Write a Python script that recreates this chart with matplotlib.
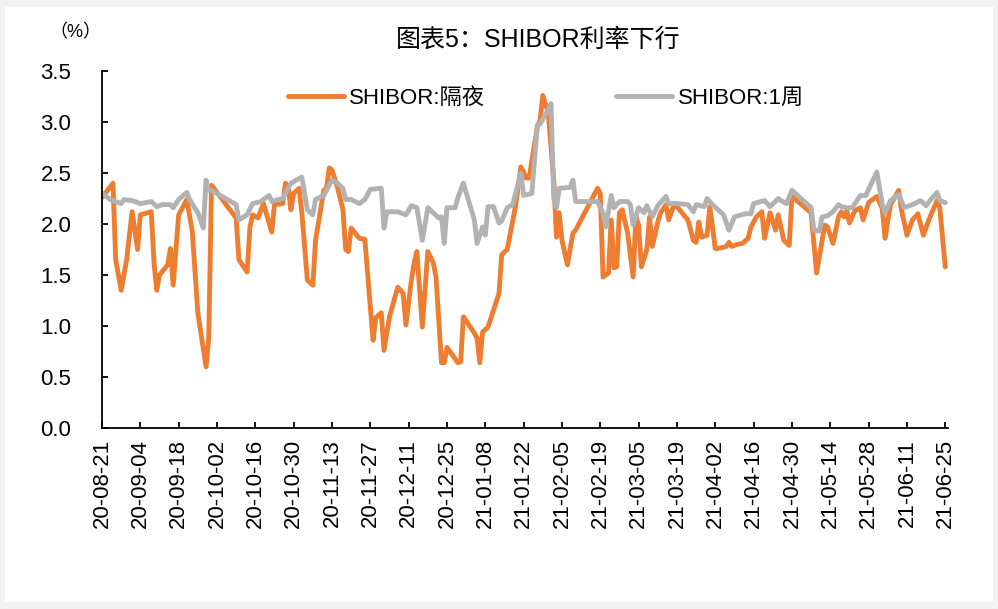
import numpy as np
import pandas as pd
import matplotlib
matplotlib.use('Agg')
import matplotlib.pyplot as plt
import matplotlib.dates as mdates
from matplotlib.patches import Rectangle

plt.rcParams['font.family'] = ['Liberation Sans', 'Noto Sans CJK SC', 'DejaVu Sans']

# SHIBOR overnight (隔夜), dates as MM-DD (Aug-Dec = 2020, Jan-Jun = 2021)
on_dates = [
    '08-21', '08-25', '08-26', '08-28', '08-30', '09-01', '09-03', '09-04', '09-08', '09-09',
    '09-10', '09-11', '09-14', '09-15', '09-16', '09-18', '09-21', '09-23', '09-25', '09-28',
    '09-29', '09-30', '10-09', '10-10', '10-13', '10-14', '10-15', '10-17', '10-19', '10-22',
    '10-23', '10-26', '10-27', '10-28', '10-29', '10-30', '11-01', '11-02', '11-04', '11-06',
    '11-07', '11-10', '11-11', '11-12', '11-13', '11-15', '11-17', '11-18', '11-19', '11-20',
    '11-23', '11-25', '11-28', '11-29', '12-01', '12-02', '12-04', '12-07', '12-09', '12-10',
    '12-12', '12-13', '12-14', '12-16', '12-18', '12-20', '12-21', '12-23', '12-24', '12-25',
    '12-29', '12-30', '12-31', '01-04', '01-05', '01-06', '01-07', '01-09', '01-13', '01-14',
    '01-16', '01-19', '01-21', '01-23', '01-24', '01-27', '01-28', '01-29', '01-31', '02-02',
    '02-03', '02-04', '02-05', '02-07', '02-09', '02-10', '02-18', '02-19', '02-20', '02-22',
    '02-23', '02-24', '02-25', '02-26', '02-27', '03-01', '03-03', '03-04', '03-05', '03-06',
    '03-08', '03-09', '03-10', '03-12', '03-13', '03-15', '03-16', '03-18', '03-19', '03-23',
    '03-25', '03-26', '03-27', '03-28', '03-30', '03-31', '04-02', '04-03', '04-06', '04-07',
    '04-08', '04-10', '04-12', '04-14', '04-15', '04-17', '04-19', '04-20', '04-22', '04-24',
    '04-25', '04-27', '04-29', '04-30', '05-07', '05-09', '05-10', '05-12', '05-13', '05-15',
    '05-17', '05-18', '05-19', '05-20', '05-21', '05-23', '05-25', '05-26', '05-28', '05-31',
    '06-02', '06-03', '06-05', '06-08', '06-09', '06-11', '06-13', '06-15', '06-17', '06-19',
    '06-22', '06-23', '06-25',
]
on_vals = [
    2.26, 2.40, 1.65, 1.35, 1.65, 2.12, 1.75, 2.09, 2.12, 1.62,
    1.35, 1.50, 1.60, 1.76, 1.40, 2.09, 2.24, 1.92, 1.13, 0.60,
    0.89, 2.38, 2.06, 1.65, 1.53, 1.96, 2.09, 2.06, 2.20, 1.92,
    2.19, 2.20, 2.40, 2.37, 2.14, 2.30, 2.35, 2.11, 1.45, 1.40,
    1.84, 2.33, 2.35, 2.55, 2.53, 2.36, 2.14, 1.75, 1.73, 1.96,
    1.86, 1.85, 0.86, 1.08, 1.13, 0.76, 1.09, 1.38, 1.32, 1.01,
    1.45, 1.62, 1.73, 0.99, 1.73, 1.62, 1.48, 0.64, 0.64, 0.79,
    0.64, 0.65, 1.09, 0.93, 0.88, 0.64, 0.94, 0.99, 1.32, 1.70,
    1.75, 2.17, 2.56, 2.45, 2.45, 2.95, 3.02, 3.26, 3.09, 2.43,
    1.87, 2.11, 1.84, 1.60, 1.91, 1.94, 2.35, 2.30, 1.48, 1.52,
    2.04, 1.57, 1.58, 2.11, 2.14, 1.91, 1.48, 2.07, 1.99, 1.58,
    1.75, 2.07, 1.78, 2.02, 2.11, 2.19, 2.04, 2.20, 2.17, 2.04,
    1.84, 1.82, 2.02, 1.87, 1.89, 2.17, 1.76, 1.76, 1.78, 1.82,
    1.78, 1.80, 1.81, 1.86, 1.97, 2.07, 2.12, 1.86, 2.11, 1.94,
    2.09, 1.84, 1.79, 2.27, 2.11, 1.52, 1.68, 1.99, 1.97, 1.81,
    2.07, 2.12, 2.07, 2.13, 2.01, 2.13, 2.16, 2.04, 2.21, 2.27,
    2.15, 1.86, 2.19, 2.33, 2.14, 1.89, 2.04, 2.10, 1.89, 2.04,
    2.23, 2.16, 1.58,
]

# SHIBOR 1 week (1周)
w1_dates = [
    '08-21', '08-24', '08-28', '08-29', '09-01', '09-04', '09-08', '09-10', '09-12', '09-15',
    '09-16', '09-18', '09-21', '09-22', '09-25', '09-27', '09-28', '09-29', '09-30', '10-09',
    '10-10', '10-13', '10-15', '10-18', '10-21', '10-22', '10-26', '10-29', '10-31', '11-02',
    '11-04', '11-06', '11-07', '11-10', '11-11', '11-13', '11-15', '11-17', '11-18', '11-20',
    '11-23', '11-25', '11-27', '12-01', '12-02', '12-03', '12-07', '12-10', '12-12', '12-14',
    '12-16', '12-18', '12-20', '12-22', '12-23', '12-24', '12-25', '12-28', '12-29', '12-30',
    '12-31', '01-04', '01-05', '01-07', '01-08', '01-09', '01-11', '01-13', '01-14', '01-16',
    '01-18', '01-21', '01-22', '01-25', '01-27', '01-28', '01-31', '02-01', '02-02', '02-03',
    '02-04', '02-08', '02-09', '02-10', '02-18', '02-20', '02-21', '02-23', '02-24', '02-26',
    '03-01', '03-02', '03-03', '03-05', '03-07', '03-08', '03-10', '03-12', '03-15', '03-16',
    '03-19', '03-23', '03-25', '03-26', '03-29', '03-30', '04-01', '04-05', '04-07', '04-09',
    '04-13', '04-15', '04-16', '04-20', '04-22', '04-25', '04-26', '04-28', '04-30', '05-07',
    '05-08', '05-10', '05-11', '05-13', '05-15', '05-17', '05-18', '05-20', '05-22', '05-25',
    '05-27', '05-31', '06-02', '06-03', '06-05', '06-08', '06-10', '06-13', '06-16', '06-18',
    '06-20', '06-22', '06-23', '06-25',
]
w1_vals = [
    2.30, 2.24, 2.20, 2.24, 2.23, 2.20, 2.22, 2.17, 2.19, 2.19,
    2.16, 2.24, 2.31, 2.24, 2.11, 1.96, 2.43, 2.33, 2.33, 2.19,
    2.04, 2.09, 2.20, 2.22, 2.28, 2.22, 2.25, 2.40, 2.43, 2.46,
    2.14, 2.09, 2.24, 2.28, 2.33, 2.43, 2.40, 2.35, 2.24, 2.24,
    2.20, 2.24, 2.34, 2.35, 1.96, 2.12, 2.12, 2.09, 2.18, 2.16,
    1.84, 2.16, 2.11, 2.06, 2.07, 1.81, 2.16, 2.16, 2.26, 2.33,
    2.40, 2.04, 1.81, 1.97, 1.89, 2.17, 2.17, 2.01, 2.03, 2.16,
    2.19, 2.50, 2.28, 2.30, 2.97, 2.98, 3.12, 3.18, 2.25, 2.16,
    2.35, 2.36, 2.43, 2.22, 2.22, 2.11, 1.97, 2.28, 2.16, 2.22,
    2.22, 2.19, 1.99, 2.16, 2.11, 2.18, 2.07, 2.18, 2.27, 2.20,
    2.20, 2.19, 2.12, 2.19, 2.17, 2.25, 2.19, 2.09, 1.94, 2.07,
    2.10, 2.10, 2.20, 2.23, 2.17, 2.25, 2.23, 2.20, 2.33, 2.16,
    1.94, 1.93, 2.07, 2.08, 2.12, 2.19, 2.17, 2.16, 2.16, 2.28,
    2.28, 2.51, 2.19, 2.11, 2.23, 2.29, 2.16, 2.19, 2.23, 2.18,
    2.25, 2.31, 2.23, 2.21,
]

series_labels = ['SHIBOR:隔夜', 'SHIBOR:1周']
series_colors = ['#ED7D31', '#B2B2B2']
title = '图表5：SHIBOR利率下行'
unit_label = '（%）'
y_ticks = [0.0, 0.5, 1.0, 1.5, 2.0, 2.5, 3.0, 3.5]


def to_dates(md):
    # Aug-Dec belong to 2020, Jan-Jun to 2021
    return pd.to_datetime([('2020-' if int(s[:2]) >= 8 else '2021-') + s for s in md])


on_x = to_dates(on_dates)
w1_x = to_dates(w1_dates)
start, end = pd.Timestamp('2020-08-21'), pd.Timestamp('2021-06-25')
x_ticks = pd.date_range(start, end, freq='14D')

W, H = 998, 609
fig = plt.figure(figsize=(W / 100, H / 100), dpi=100, facecolor='#F2F2F2')
fig.patches.append(Rectangle((5 / W, 7 / H), (W - 10) / W, (H - 14) / H,
                             transform=fig.transFigure, facecolor='white',
                             edgecolor='none', zorder=-1))

ax = fig.add_axes([102 / W, 1 - 428 / H, (948 - 102) / W, (428 - 71) / H])
ax.set_facecolor('none')

ax.plot(on_x, on_vals, color=series_colors[0], lw=3.5, label=series_labels[0],
        solid_joinstyle='round', solid_capstyle='round')
ax.plot(w1_x, w1_vals, color=series_colors[1], lw=3.5, label=series_labels[1],
        solid_joinstyle='round', solid_capstyle='round')

ax.set_ylim(0, 3.5)
ax.set_yticks(y_ticks)
ax.set_yticklabels([f'{v:.1f}' for v in y_ticks])
ax.set_xlim(start, pd.Timestamp('2021-06-26'))
ax.set_xticks(x_ticks)
ax.set_xticklabels([d.strftime('%y-%m-%d') for d in x_ticks], rotation=90)

for s in ['top', 'right']:
    ax.spines[s].set_visible(False)
for s in ['left', 'bottom']:
    ax.spines[s].set_linewidth(1.3)
    ax.spines[s].set_color('black')
ax.tick_params(axis='both', direction='in', length=4, width=1.3, labelsize=16,
               colors='black')
ax.tick_params(axis='y', pad=22)
ax.tick_params(axis='x', pad=8)

fig.legend(loc='center', bbox_to_anchor=(546 / W, 1 - 98 / H), ncol=2, frameon=False,
           fontsize=16, handlelength=2.5, handletextpad=0.25, columnspacing=5.9)

fig.text(538 / W, 1 - 40 / H, title, ha='center', va='center', fontsize=18)
fig.text(75 / W, 1 - 33 / H, unit_label, ha='center', va='center', fontsize=13)

fig.savefig('out.png', dpi=100, facecolor=fig.get_facecolor())
